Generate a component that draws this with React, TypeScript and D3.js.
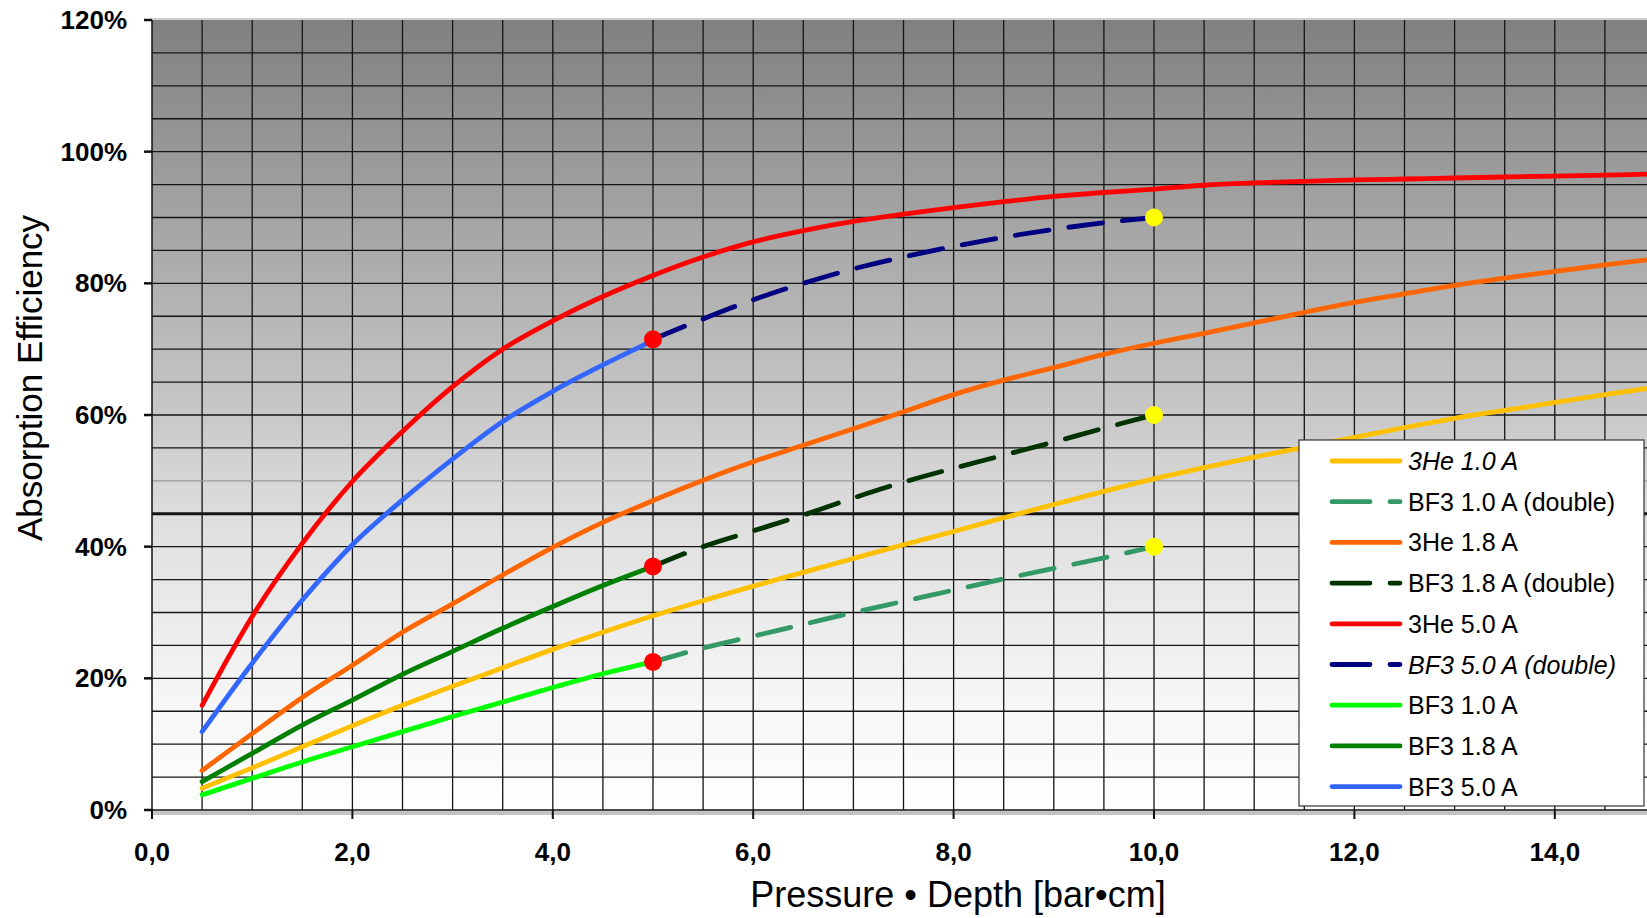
import * as d3 from 'd3';
import { useEffect, useRef } from 'react';

// pressure * depth [bar*cm]
const pdLong = [0.5, 1, 1.5, 2, 2.5, 3, 3.5, 4, 4.5, 5, 5.5, 6, 6.5, 7, 7.5, 8, 8.5, 9, 9.5, 10, 10.5, 11, 11.5, 12, 12.5, 13, 13.5, 14, 14.5, 15];
const pdShort = [0.5, 1, 1.5, 2, 2.5, 3, 3.5, 4, 4.5, 5];
const pdDouble = [5, 5.5, 6, 6.5, 7, 7.5, 8, 8.5, 9, 9.5, 10];

// absorption efficiency [%]
const he10 = [3.3, 6.4, 9.6, 12.8, 15.9, 18.8, 21.6, 24.4, 27.0, 29.5, 31.8, 34.0, 36.1, 38.2, 40.3, 42.3, 44.4, 46.4, 48.4, 50.3, 52.0, 53.6, 55.1, 56.6, 58.1, 59.5, 60.7, 61.9, 63.1, 64.2];
const he18 = [6.0, 11.6, 17.1, 22.0, 27.0, 31.3, 35.7, 39.9, 43.7, 47.0, 50.1, 52.9, 55.4, 57.9, 60.5, 63.1, 65.3, 67.2, 69.2, 70.9, 72.4, 74.0, 75.6, 77.1, 78.4, 79.7, 80.8, 81.8, 82.8, 83.7];
const he50 = [15.9, 29.4, 40.5, 49.9, 57.5, 64.3, 70.0, 74.3, 78.0, 81.2, 84.0, 86.3, 88.0, 89.4, 90.5, 91.5, 92.4, 93.2, 93.8, 94.3, 94.9, 95.25, 95.5, 95.7, 95.85, 96.0, 96.15, 96.3, 96.45, 96.6];
const bf10 = [2.3, 4.8, 7.3, 9.6, 11.9, 14.2, 16.4, 18.6, 20.7, 22.5];
const bf18 = [4.3, 8.6, 12.9, 16.7, 20.6, 24.1, 27.6, 30.9, 34.1, 37.0];
const bf50 = [11.9, 22.3, 31.9, 40.3, 47.1, 53.3, 59.0, 63.6, 67.6, 71.3];
const bf10d = [22.5, 24.6, 26.4, 28.2, 30.0, 31.7, 33.4, 35.1, 36.7, 38.3, 40.0];
const bf18d = [37.0, 40.0, 42.4, 44.8, 47.4, 49.8, 51.9, 53.9, 55.9, 58.0, 60.0];
const bf50d = [71.5, 74.6, 77.5, 80.0, 82.2, 84.0, 85.6, 87.0, 88.2, 89.2, 90.0];

const redDots = [22.5, 37.0, 71.5]; // at 5.0
const yellowDots = [40.0, 60.0, 90.0]; // at 10.0

const xTicks = [0, 2, 4, 6, 8, 10, 12, 14];
const yTicks = [0, 20, 40, 60, 80, 100, 120];

const series = [
    { name: '3He 1.0 A', xs: pdLong, ys: he10, color: '#FFC000', dashed: false, italic: true },
    { name: 'BF3 1.0 A (double)', xs: pdDouble, ys: bf10d, color: '#339966', dashed: true, italic: false },
    { name: '3He 1.8 A', xs: pdLong, ys: he18, color: '#FF6600', dashed: false, italic: false },
    { name: 'BF3 1.8 A (double)', xs: pdDouble, ys: bf18d, color: '#003300', dashed: true, italic: false },
    { name: '3He 5.0 A', xs: pdLong, ys: he50, color: '#FF0000', dashed: false, italic: false },
    { name: 'BF3 5.0 A (double)', xs: pdDouble, ys: bf50d, color: '#000080', dashed: true, italic: true },
    { name: 'BF3 1.0 A', xs: pdShort, ys: bf10, color: '#00FF00', dashed: false, italic: false },
    { name: 'BF3 1.8 A', xs: pdShort, ys: bf18, color: '#008000', dashed: false, italic: false },
    { name: 'BF3 5.0 A', xs: pdShort, ys: bf50, color: '#3366FF', dashed: false, italic: false },
];

const App = () => {
    const svgRef = useRef(null);

    useEffect(() => {
        const width = 1647;
        const height = 918;
        const left = 152;
        const top = 20;
        const bottom = 810;
        const font = '"Liberation Sans", Arial, sans-serif';

        const svg = d3.select(svgRef.current);
        svg.selectAll('*').remove();
        svg.attr('width', width).attr('height', height);

        const x = d3.scaleLinear().domain([0, 15]).range([left, left + 1503]);
        const y = d3.scaleLinear().domain([0, 120]).range([bottom, top]);

        const defs = svg.append('defs');
        const grad = defs
            .append('linearGradient')
            .attr('id', 'bg')
            .attr('x1', 0)
            .attr('y1', 0)
            .attr('x2', 0)
            .attr('y2', 1);
        [
            [0, '#808080'],
            [0.5, '#c8c8c8'],
            [0.63, '#dedede'],
            [0.85, '#f5f5f5'],
            [1, '#ffffff'],
        ].forEach(([o, c]) => grad.append('stop').attr('offset', o).attr('stop-color', c));
        defs.append('clipPath')
            .attr('id', 'plot')
            .append('rect')
            .attr('x', left)
            .attr('y', top)
            .attr('width', width - left)
            .attr('height', bottom - top);

        svg.append('rect').attr('width', width).attr('height', height).attr('fill', '#fff');
        svg.append('rect')
            .attr('x', left)
            .attr('y', top)
            .attr('width', width - left)
            .attr('height', bottom - top)
            .attr('fill', 'url(#bg)');
        svg.append('line')
            .attr('x1', left)
            .attr('x2', width)
            .attr('y1', top - 1)
            .attr('y2', top - 1)
            .attr('stroke', '#cfcfcf')
            .attr('stroke-width', 2);

        // grid
        const grid = svg.append('g');
        grid.selectAll('line.v')
            .data(d3.range(0.5, 15, 0.5))
            .enter()
            .append('line')
            .attr('x1', (d) => x(d))
            .attr('x2', (d) => x(d))
            .attr('y1', top)
            .attr('y2', bottom)
            .attr('stroke', '#151515')
            .attr('stroke-width', 1.3);
        grid.selectAll('line.h')
            .data(d3.range(5, 120, 5))
            .enter()
            .append('line')
            .attr('x1', left)
            .attr('x2', width)
            .attr('y1', (d) => y(d))
            .attr('y2', (d) => y(d))
            .attr('stroke', (d) => (d === 50 ? '#9a9a9a' : '#151515'))
            .attr('stroke-width', (d) => (d === 45 ? 3 : 1.3));

        // axes
        svg.append('line')
            .attr('x1', left)
            .attr('x2', left)
            .attr('y1', top)
            .attr('y2', bottom)
            .attr('stroke', '#111')
            .attr('stroke-width', 1.5);
        svg.append('rect')
            .attr('x', left)
            .attr('y', bottom + 1)
            .attr('width', width - left)
            .attr('height', 4)
            .attr('fill', '#c4c4c4');
        svg.append('line')
            .attr('x1', left)
            .attr('x2', width)
            .attr('y1', bottom)
            .attr('y2', bottom)
            .attr('stroke', '#111')
            .attr('stroke-width', 1.5);
        svg.selectAll('line.yt')
            .data(yTicks)
            .enter()
            .append('line')
            .attr('x1', left - 8)
            .attr('x2', left)
            .attr('y1', (d) => y(d))
            .attr('y2', (d) => y(d))
            .attr('stroke', '#111')
            .attr('stroke-width', 2.5);
        svg.selectAll('text.yt')
            .data(yTicks)
            .enter()
            .append('text')
            .attr('x', 127)
            .attr('y', (d) => y(d) + 9)
            .attr('text-anchor', 'end')
            .style('font-family', font)
            .style('font-weight', 'bold')
            .style('font-size', '26px')
            .text((d) => `${d}%`);
        svg.selectAll('line.xt')
            .data(xTicks)
            .enter()
            .append('line')
            .attr('x1', (d) => x(d))
            .attr('x2', (d) => x(d))
            .attr('y1', bottom)
            .attr('y2', bottom + 9)
            .attr('stroke', '#111')
            .attr('stroke-width', 2);
        svg.selectAll('text.xt')
            .data(xTicks)
            .enter()
            .append('text')
            .attr('x', (d) => x(d))
            .attr('y', 861)
            .attr('text-anchor', 'middle')
            .style('font-family', font)
            .style('font-weight', 'bold')
            .style('font-size', '26px')
            .text((d) => d3.format('.1f')(d).replace('.', ','));

        svg.append('text')
            .attr('x', 958)
            .attr('y', 907)
            .attr('text-anchor', 'middle')
            .style('font-family', font)
            .style('font-size', '36px')
            .text('Pressure • Depth [bar•cm]');
        svg.append('text')
            .attr('transform', 'translate(29, 378) rotate(-90)')
            .attr('text-anchor', 'middle')
            .attr('dominant-baseline', 'central')
            .style('font-family', font)
            .style('font-size', '35px')
            .text('Absorption Efficiency');

        // curves
        const line = d3
            .line()
            .x((d) => x(d[0]))
            .y((d) => y(d[1]))
            .curve(d3.curveMonotoneX);
        const plot = svg.append('g').attr('clip-path', 'url(#plot)');
        plot.selectAll('path.s')
            .data(series)
            .enter()
            .append('path')
            .attr('d', (s) => line(s.xs.map((v, i) => [v, s.ys[i]])))
            .attr('fill', 'none')
            .attr('stroke', (s) => s.color)
            .attr('stroke-width', 4.8)
            .attr('stroke-linecap', 'round')
            .attr('stroke-dasharray', (s) => (s.dashed ? '34 20' : null));

        plot.selectAll('circle.r')
            .data(redDots)
            .enter()
            .append('circle')
            .attr('cx', x(5))
            .attr('cy', (d) => y(d))
            .attr('r', 9)
            .attr('fill', '#FF0000');
        plot.selectAll('circle.yl')
            .data(yellowDots)
            .enter()
            .append('circle')
            .attr('cx', x(10))
            .attr('cy', (d) => y(d))
            .attr('r', 9)
            .attr('fill', '#FFFF00');

        // legend
        const lg = svg.append('g');
        lg.append('rect')
            .attr('x', 1299)
            .attr('y', 440)
            .attr('width', 345)
            .attr('height', 366)
            .attr('fill', '#fff')
            .attr('stroke', '#333')
            .attr('stroke-width', 1.2);
        const rows = lg
            .selectAll('g.row')
            .data(series)
            .enter()
            .append('g')
            .attr('transform', (d, i) => `translate(0, ${461 + i * 40.7})`);
        rows.append('line')
            .attr('x1', 1332)
            .attr('x2', 1400)
            .attr('y1', 0)
            .attr('y2', 0)
            .attr('stroke', (s) => s.color)
            .attr('stroke-width', 4.8)
            .attr('stroke-linecap', 'round')
            .attr('stroke-dasharray', (s) => (s.dashed ? '38 20' : null));
        rows.append('text')
            .attr('x', 1408)
            .attr('y', 9)
            .style('font-family', font)
            .style('font-size', '25px')
            .style('font-style', (s) => (s.italic ? 'italic' : 'normal'))
            .text((s) => s.name);
    }, []);

    return <svg ref={svgRef} style={{ position: 'absolute', left: 0, top: 0, display: 'block' }} />;
};

export default App;
